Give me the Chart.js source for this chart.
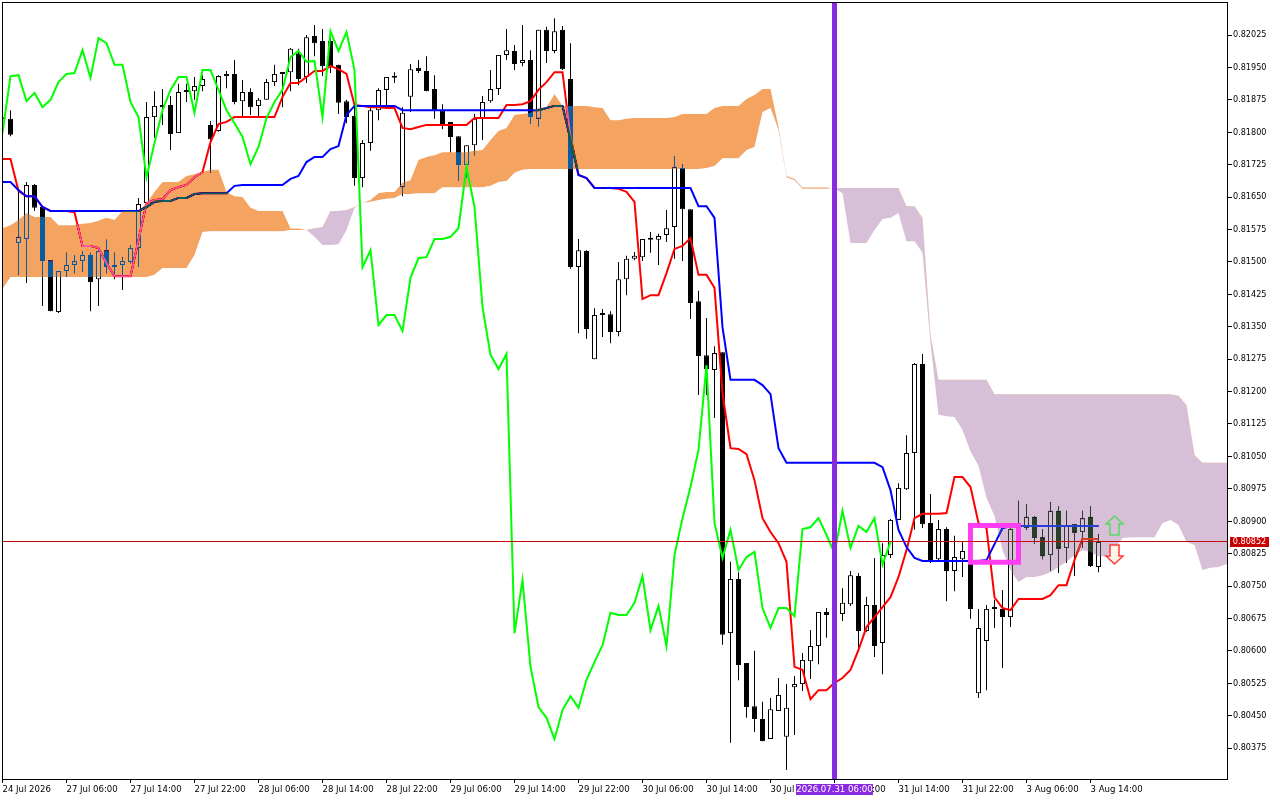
<!DOCTYPE html>
<html>
<head>
<meta charset="utf-8">
<title>Chart</title>
<style>
html, body { margin: 0; padding: 0; background: #fff; }
canvas { display: block; }
</style>
<script src="https://cdn.jsdelivr.net/npm/chart.js@4/dist/chart.umd.min.js"></script>
</head>
<body>
<canvas id="chart" width="1280" height="800"></canvas>
<script>
// quotes are in points (0.00001), one entry per bar
const opens = [81831,81831,81544,81553,81678,81627,81504,81384,81479,81493,
81502,81516,81460,81527,81490,81493,81500,81532,81636,81835,
81863,81863,81798,81895,81895,81907,81817,81803,81930,81935,
81872,81893,81861,81875,81916,81935,81939,81983,81928,82023,
82011,82011,81956,81872,81838,81694,81775,81851,81898,81926,
81673,81882,81949,81942,81900,81851,81824,81791,81724,81770,
81833,81872,81900,81979,81988,81960,81967,81831,82037,81988,
82037,81923,81488,81525,81275,81382,81379,81338,81460,81507,
81511,81551,81551,81562,81581,81717,81622,81409,81284,81250,
81291,80641,80766,80572,80472,80442,80396,80461,80401,80516,
80523,80576,80611,80690,80683,80685,80708,80773,80646,80706,
80618,80822,80903,80974,81058,81264,80896,80812,80882,80785,
80812,80808,80502,80623,80699,80697,80678,80891,80884,80910,
80863,80822,80924,80838,80893,80875,80910,80794];
const closes = [81830,81794,81558,81678,81625,81502,81386,81479,81493,81502,
81516,81453,81525,81488,81488,81502,81532,81634,81835,81861,
81858,81796,81893,81893,81907,81923,81784,81930,81935,81870,
81893,81858,81875,81916,81935,81939,81993,81923,82020,82006,
81953,81953,81868,81835,81694,81775,81851,81898,81928,81928,
81845,81946,81942,81895,81851,81819,81789,81724,81770,81831,
81870,81900,81979,81990,81958,81967,81835,82037,81988,82034,
81946,81488,81527,81345,81377,81377,81338,81460,81507,81514,
81553,81553,81560,81578,81720,81622,81405,81282,81252,81289,
80637,80766,80567,80470,80442,80391,80465,80498,80468,80523,
80579,80611,80690,80683,80660,80711,80775,80646,80706,80611,
80822,80903,80977,81058,81264,80893,80808,80882,80785,80817,
80831,80697,80653,80697,80697,80678,80882,80889,80910,80861,
80819,80924,80836,80889,80873,80907,80796,80852];
const highs = [81835,81851,81671,81685,81680,81627,81504,81479,81521,81516,
81525,81521,81527,81551,81521,81511,81539,81648,81870,81895,
81900,81884,81912,81912,81928,81932,81826,81932,81942,81967,
81921,81902,81879,81923,81956,81939,81995,81993,82025,82048,
82039,82032,81956,81875,81861,81782,81858,81902,81928,81939,
81858,81958,81967,81976,81932,81865,81824,81791,81770,81842,
81884,81944,81979,82039,82002,82048,81990,82037,82044,82064,
82046,82006,81553,81527,81393,81391,81386,81500,81514,81523,
81553,81569,81565,81620,81745,81726,81622,81433,81370,81305,
81291,80806,80782,80572,80600,80482,80491,80537,80523,80542,
80595,80648,80690,80699,80690,80745,80785,80780,80725,80815,
80849,80905,80988,81099,81266,81287,80963,80903,80886,80866,
80852,80810,80697,80706,80718,80741,80896,80947,80940,80912,
80882,80944,80935,80924,80893,80924,80935,80870];
const lows = [81826,81791,81470,81451,81618,81398,81386,81382,81465,81474,
81477,81386,81398,81474,81460,81435,81497,81488,81634,81787,
81817,81759,81798,81870,81875,81895,81706,81801,81902,81865,
81835,81840,81833,81875,81907,81858,81895,81909,81914,81976,
81930,81937,81842,81821,81676,81673,81757,81828,81858,81914,
81652,81847,81937,81895,81831,81807,81754,81687,81694,81747,
81782,81868,81886,81967,81944,81953,81819,81814,81960,81983,
81944,81484,81335,81322,81275,81326,81312,81328,81423,81504,
81502,81521,81493,81546,81507,81502,81368,81192,81192,81139,
80614,80387,80532,80445,80412,80391,80396,80461,80324,80405,
80507,80535,80569,80630,80637,80669,80704,80597,80644,80586,
80546,80815,80903,80972,80880,80884,80803,80810,80715,80738,
80771,80674,80491,80509,80653,80560,80655,80884,80880,80847,
80812,80785,80780,80803,80773,80838,80794,80782];

// ichimoku lines
const tenkan = [81738,81738,81664,81652,81652,81627,81618,81618,81618,81615,
81537,81537,81532,81497,81467,81467,81467,81551,81636,81643,
81645,81666,81673,81678,81696,81708,81777,81819,81824,81835,
81835,81835,81835,81835,81835,81882,81914,81914,81928,81942,
81942,81953,81946,81935,81863,81861,81858,81858,81856,81856,
81810,81807,81812,81817,81817,81817,81817,81817,81817,81833,
81833,81833,81833,81863,81863,81865,81872,81898,81916,81939,
81939,81789,81701,81694,81671,81671,81671,81669,81662,81639,
81414,81423,81423,81474,81530,81537,81555,81470,81470,81440,
81197,81069,81067,81055,80995,80907,80875,80849,80806,80563,
80556,80488,80509,80509,80526,80537,80556,80602,80655,80678,
80701,80724,80771,80833,80907,80917,80917,80917,80919,81002,
81002,80979,80896,80884,80724,80699,80694,80720,80720,80720,
80720,80729,80752,80752,80810,80859,80859,80859];
const kijun = [81685,81685,81666,81652,81652,81627,81618,81618,81618,81618,
81618,81618,81618,81618,81618,81618,81618,81618,81627,81639,
81641,81641,81648,81648,81657,81659,81659,81659,81659,81676,
81678,81678,81678,81678,81678,81678,81692,81699,81731,81743,
81743,81761,81768,81840,81861,81861,81861,81861,81861,81861,
81851,81851,81851,81851,81851,81851,81851,81851,81851,81851,
81851,81851,81851,81851,81851,81851,81851,81851,81856,81861,
81861,81782,81701,81694,81671,81671,81671,81671,81671,81671,
81671,81671,81671,81671,81671,81671,81671,81629,81629,81602,
81349,81227,81227,81227,81227,81215,81194,81069,81035,81035,
81035,81035,81035,81035,81035,81035,81035,81035,81035,81035,
81025,80972,80880,80840,80815,80808,80808,80808,80808,80808,
80808,80808,80808,80810,80847,80884,80889,80889,80889,80889,
80889,80889,80889,80889,80889,80889,80889,80889];
const chikou = [81798,81930,81932,81872,81891,81858,81875,81916,81935,81937,
81990,81926,82018,82006,81956,81956,81870,81835,81696,81775,
81851,81898,81928,81928,81845,81944,81944,81898,81851,81821,
81789,81726,81766,81833,81870,81898,81974,81988,81963,81965,
81835,82034,81988,82032,81944,81488,81527,81354,81377,81377,
81340,81463,81509,81511,81553,81553,81558,81578,81720,81627,
81396,81285,81252,81287,80641,80764,80563,80470,80445,80396,
80463,80495,80468,80533,80574,80613,80688,80683,80683,80711,
80773,80648,80704,80611,80822,80907,80979,81065,81261,80896,
80815,80880,80787,80817,80829,80699,80653,80699,80699,80680,
80882,80886,80907,80868,80826,80924,80838,80889,80875,80907,
80799,80852];
const spanA = [81578,81585,81597,81613,81604,81604,81604,81585,81585,81585,
81588,81590,81595,81602,81597,81618,81618,81618,81636,81662,
81685,81685,81685,81699,81703,81708,81713,81713,81662,81652,
81650,81625,81618,81618,81618,81618,81577,81577,81574,81558,
81539,81539,81541,81574,81625,81636,81643,81659,81662,81662,
81683,81689,81736,81743,81747,81754,81754,81754,81754,81757,
81759,81782,81803,81810,81840,81842,81845,81856,81858,81888,
81861,81861,81861,81861,81858,81856,81828,81828,81831,81833,
81833,81833,81833,81833,81835,81842,81842,81842,81842,81856,
81861,81861,81861,81877,81886,81900,81900,81812,81699,81692,
81672,81672,81672,81672,81670,81659,81544,81544,81544,81574,
81599,81602,81613,81548,81548,81521,81312,81146,81143,81141,
81111,81062,81028,80954,80912,80833,80787,80759,80771,80771,
80775,80782,80794,80806,80822,80833,80829,80819,80819,80836,
80861,80863,80863,80863,80863,80896,80903,80891,80852,80845,
80787,80792,80794,80801,80803];
const spanB = [81437,81465,81465,81465,81465,81465,81465,81465,81465,81465,
81465,81465,81465,81465,81465,81465,81465,81465,81465,81470,
81486,81486,81486,81486,81516,81569,81571,81571,81571,81571,
81571,81571,81571,81571,81571,81571,81574,81574,81574,81578,
81581,81618,81618,81620,81627,81636,81639,81643,81646,81648,
81657,81657,81659,81659,81659,81673,81673,81673,81673,81673,
81673,81676,81685,81687,81706,81713,81715,81715,81715,81715,
81715,81715,81715,81715,81715,81715,81715,81715,81715,81715,
81715,81715,81715,81715,81715,81715,81715,81715,81717,81722,
81740,81740,81740,81759,81766,81847,81856,81805,81696,81689,
81669,81669,81669,81669,81671,81671,81671,81671,81671,81671,
81671,81671,81671,81629,81629,81602,81331,81227,81227,81227,
81227,81227,81227,81227,81194,81194,81194,81194,81194,81194,
81194,81194,81194,81194,81194,81194,81194,81194,81194,81194,
81194,81194,81194,81194,81194,81194,81194,81190,81169,81053,
81035,81035,81035,81035,81035];

const priceTicks = [82025,81950,81875,81800,81725,81650,81575,81500,81425,81350,81275,81200,
81125,81050,80975,80900,80825,80750,80675,80600,80525,80450,80375];
const timeBars = [0,8,16,24,32,40,48,56,64,72,80,88,96,104,112,120,128,136];
const timeLabels = ['24 Jul 2026','27 Jul 06:00','27 Jul 14:00','27 Jul 22:00','28 Jul 06:00','28 Jul 14:00',
'28 Jul 22:00','29 Jul 06:00','29 Jul 14:00','29 Jul 22:00','30 Jul 06:00','30 Jul 14:00',
'30 Jul 22:00','31 Jul 06:00','31 Jul 14:00','31 Jul 22:00','3 Aug 06:00','3 Aug 14:00'];

// objects on the chart
const cursorBar = 104;
const cursorLabel = '2026.07.31 06:00';
const boxBars = [121, 127];
const boxPrices = [80890, 80805];
const arrowBar = 139;
const arrowUpTip = 80912;
const arrowDownTip = 80801;
const lastClose = closes[closes.length - 1];

const FONT = "'DejaVu Sans Condensed', 'Liberation Sans', sans-serif";
const yMin = 80303.4;
const yMax = 82101.4;

const series = arr => arr.map((y, x) => ({x, y}));

function lineSet(label, values, color, order) {
    return {
        type: 'line', label, data: series(values), order,
        borderColor: color, borderWidth: 2, pointRadius: 0, tension: 0, fill: false
    };
}

function drawArrow(ctx, x, y, dir, stroke, fill) {
    const pts = [[8.5, 8], [4.5, 8], [4.5, 19], [-4.5, 19], [-4.5, 8], [-8.5, 8]];
    ctx.beginPath();
    ctx.moveTo(x, y);
    pts.forEach(p => ctx.lineTo(x + p[0], y + dir * p[1]));
    ctx.closePath();
    if (fill) {
        ctx.fillStyle = fill;
        ctx.fill();
    }
    ctx.lineWidth = 1.5;
    ctx.strokeStyle = stroke;
    ctx.stroke();
}

const terminalLook = {
    id: 'terminalLook',
    beforeDraw(chart) {
        const ctx = chart.ctx;
        ctx.save();
        ctx.fillStyle = '#fff';
        ctx.fillRect(0, 0, chart.width, chart.height);
        ctx.restore();
    },
    // the cloud is painted in difference mode so candles and lines show through inverted
    afterDatasetDraw(chart, args) {
        const label = chart.data.datasets[args.index].label;
        if (label === 'kijun') chart.ctx.globalCompositeOperation = 'difference';
        if (label === 'spanA') chart.ctx.globalCompositeOperation = 'source-over';
    },
    afterDraw(chart) {
        const ctx = chart.ctx;
        const a = chart.chartArea;
        const sx = chart.scales.x;
        const sy = chart.scales.y;
        ctx.save();

        // last price line
        const py = Math.floor(sy.getPixelForValue(lastClose));
        ctx.fillStyle = '#c80a0a';
        ctx.fillRect(a.left, py, a.right - a.left, 1);

        drawArrow(ctx, sx.getPixelForValue(arrowBar), sy.getPixelForValue(arrowUpTip), 1, '#56d95f', null);
        drawArrow(ctx, sx.getPixelForValue(arrowBar), sy.getPixelForValue(arrowDownTip), -1, '#ff3b3b', '#fff4e6');

        // frame
        ctx.fillStyle = '#000';
        ctx.fillRect(a.left, a.top, a.right - a.left + 1, 1);
        ctx.fillRect(a.left, a.top, 1, a.bottom - a.top + 1);
        ctx.fillRect(a.right, a.top, 1, a.bottom - a.top + 1);
        ctx.fillRect(a.left, a.bottom, a.right - a.left + 1, 1);

        ctx.textBaseline = 'middle';

        // last price tag
        ctx.font = '9px ' + FONT;
        ctx.fillStyle = '#c80000';
        ctx.fillRect(a.right + 3, py - 4, 39, 10);
        ctx.fillStyle = '#fff';
        ctx.textAlign = 'center';
        ctx.fillText((lastClose / 100000).toFixed(5), a.right + 22.5, py + 1);

        // crosshair date tag
        ctx.font = '9.5px ' + FONT;
        const cx = Math.floor(sx.getPixelForValue(cursorBar));
        ctx.fillStyle = '#8a2be2';
        ctx.fillRect(cx - 38, a.bottom + 5, 77, 11);
        ctx.fillStyle = '#fff';
        ctx.fillText(cursorLabel, cx + 0.5, a.bottom + 11);
        ctx.restore();
    }
};

new Chart(document.getElementById('chart'), {
    data: {
        datasets: [
            {
                type: 'bar', label: 'wick', order: 100, grouped: false,
                data: highs.map((h, i) => ({x: i, y: [lows[i], h]})),
                backgroundColor: '#000', barThickness: 1, inflateAmount: 0
            },
            {
                type: 'bar', label: 'body', order: 99, grouped: false,
                data: opens.map((o, i) => ({x: i, y: [o, closes[i]]})),
                backgroundColor: c => closes[c.dataIndex] >= opens[c.dataIndex] ? '#fff' : '#000',
                borderColor: '#000', borderWidth: 1, borderSkipped: false,
                barThickness: 5, minBarLength: 2, inflateAmount: 0
            },
            lineSet('tenkan', tenkan, '#ff0000', 98),
            lineSet('kijun', kijun, '#0000ff', 97),
            {
                type: 'line', label: 'spanA', data: series(spanA), order: 95,
                borderWidth: 0, pointRadius: 0, tension: 0,
                fill: {target: '+1', above: '#0b5b9f', below: '#274027'}
            },
            {
                type: 'line', label: 'spanB', data: series(spanB), order: 96,
                borderWidth: 0, pointRadius: 0, tension: 0, fill: false
            },
            lineSet('chikou', chikou, '#00ff00', 94),
            {
                type: 'line', label: 'box', order: 92,
                data: [
                    {x: boxBars[0], y: boxPrices[0]}, {x: boxBars[1], y: boxPrices[0]},
                    {x: boxBars[1], y: boxPrices[1]}, {x: boxBars[0], y: boxPrices[1]},
                    {x: boxBars[0], y: boxPrices[0]}
                ],
                borderColor: '#ff3df2', borderWidth: 5, borderJoinStyle: 'miter', borderCapStyle: 'square',
                pointRadius: 0, tension: 0, fill: false
            },
            {
                type: 'line', label: 'cursor', order: 91,
                data: [{x: cursorBar, y: yMax}, {x: cursorBar, y: yMin}],
                borderColor: '#8a2be2', borderWidth: 5, pointRadius: 0, fill: false
            }
        ]
    },
    options: {
        responsive: false,
        devicePixelRatio: 1,
        animation: false,
        events: [],
        layout: {padding: {left: 2, top: 2, right: 0, bottom: 0}},
        plugins: {legend: {display: false}, tooltip: {enabled: false}},
        scales: {
            x: {
                type: 'linear',
                offset: false,
                min: -0.0625,
                max: 153.0625,
                afterFit: s => { s.height = 21; s.paddingLeft = 0; s.paddingRight = 0; },
                afterBuildTicks: s => { s.ticks = timeBars.map(v => ({value: v})); },
                grid: {drawOnChartArea: false, color: '#000', tickLength: 4, offset: false},
                border: {display: false},
                ticks: {
                    autoSkip: false, maxRotation: 0, align: 'start', padding: 1,
                    color: '#000', font: {family: FONT, size: 9.5},
                    callback: (v, i) => timeLabels[i]
                }
            },
            y: {
                type: 'linear',
                position: 'right',
                min: yMin,
                max: yMax,
                afterFit: s => { s.width = 53; s.paddingTop = 0; s.paddingBottom = 0; },
                afterBuildTicks: s => { s.ticks = priceTicks.map(v => ({value: v})); },
                grid: {drawOnChartArea: false, color: '#000', tickLength: 5},
                border: {display: false},
                ticks: {
                    autoSkip: false, padding: 1,
                    color: '#000', font: {family: FONT, size: 9},
                    callback: v => (v / 100000).toFixed(5)
                }
            }
        }
    },
    plugins: [terminalLook]
});
</script>
</body>
</html>
